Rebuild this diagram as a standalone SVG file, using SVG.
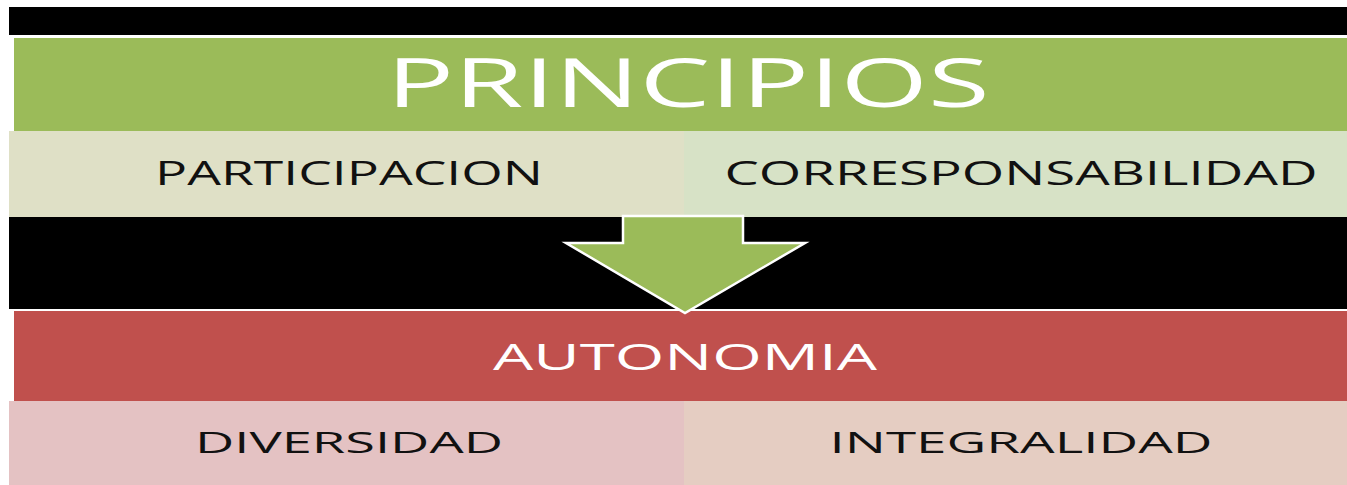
<svg xmlns="http://www.w3.org/2000/svg" width="1347" height="485" viewBox="0 0 1347 485">
  <style>
    .lbl { font-family: "Open Sans", "Liberation Sans", sans-serif; text-anchor: middle; }
    .dark { fill: #111111; }
    .white { fill: #ffffff; }
    .band { stroke: none; }
  </style>
  <rect x="0" y="0" width="1347" height="485" fill="#ffffff"/>
  <rect x="9" y="7" width="1338" height="28" fill="#000000"/>
  <rect x="9" y="217" width="1338" height="92" fill="#000000"/>

  <g id="principios">
    <rect class="band" x="14" y="38" width="1333" height="93" fill="#9BBB59"/>
    <text class="lbl white" x="688" y="107" font-size="68" textLength="603" lengthAdjust="spacingAndGlyphs">PRINCIPIOS</text>
  </g>
  <g id="participacion">
    <rect class="band" x="9" y="131" width="675" height="86" fill="#DFE0C6"/>
    <text class="lbl dark" x="349" y="185" font-size="32" textLength="388" lengthAdjust="spacingAndGlyphs">PARTICIPACION</text>
  </g>
  <g id="corresponsabilidad">
    <rect class="band" x="684" y="131" width="663" height="86" fill="#D7E2C6"/>
    <text class="lbl dark" x="1021" y="185" font-size="32" textLength="593" lengthAdjust="spacingAndGlyphs">CORRESPONSABILIDAD</text>
  </g>
  <g id="autonomia">
    <rect class="band" x="14" y="311" width="1333" height="90" fill="#C0504D"/>
    <text class="lbl white" x="685" y="370" font-size="36" textLength="384" lengthAdjust="spacingAndGlyphs">AUTONOMIA</text>
  </g>
  <g id="diversidad">
    <rect class="band" x="9" y="401" width="675" height="84" fill="#E4C2C3"/>
    <text class="lbl dark" x="349" y="453" font-size="30" textLength="308" lengthAdjust="spacingAndGlyphs">DIVERSIDAD</text>
  </g>
  <g id="integralidad">
    <rect class="band" x="684" y="401" width="663" height="84" fill="#E5CDC2"/>
    <text class="lbl dark" x="1021" y="453" font-size="30" textLength="383" lengthAdjust="spacingAndGlyphs">INTEGRALIDAD</text>
  </g>

  <g id="connectors">
    <polygon points="623,216 743,216 743,243 805,243 685,313 566,243 623,243" fill="#9BBB59" stroke="#ffffff" stroke-width="2.5" stroke-linejoin="miter"/>
  </g>
</svg>
